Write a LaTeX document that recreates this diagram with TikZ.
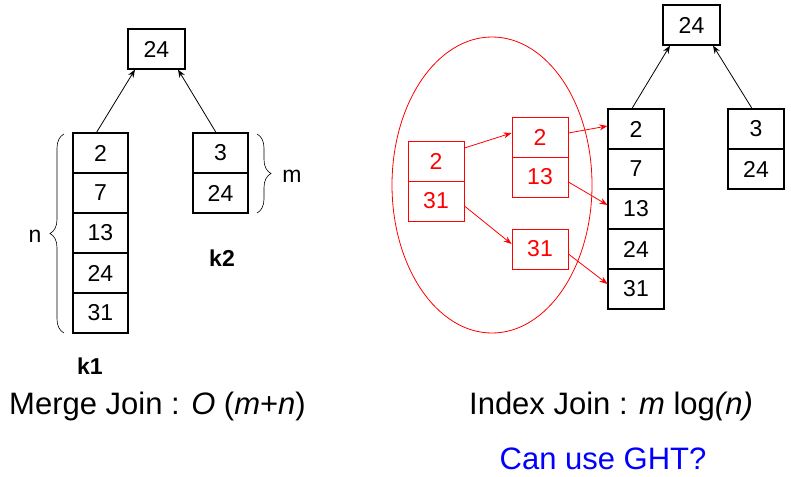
\documentclass[tikz,border=0pt]{standalone}
\usepackage{fontspec}
\setmainfont{Liberation Sans}
\usetikzlibrary{shapes.geometric,arrows.meta,decorations.pathreplacing}
\begin{document}
\begin{tikzpicture}[x=1pt,y=-1pt,
  cell/.style={draw=black,line width=1.1pt,minimum width=55pt,minimum height=40pt,inner sep=0pt,font=\fontsize{23}{26}\selectfont},
  wcell/.style={cell,minimum width=57pt},
  rcell/.style={cell,draw=red,text=red,line width=0.9pt,minimum width=56pt},
  arr/.style={line width=0.8pt,-{Stealth[length=8pt,width=6pt]}},
  rarr/.style={arr,red},
  lbl/.style={font=\fontsize{23}{26}\selectfont},
  blbl/.style={font=\fontsize{23}{26}\selectfont\bfseries},
  big/.style={font=\fontsize{31}{36}\selectfont,inner sep=0pt},
  brc/.style={decorate,decoration={brace,amplitude=14pt},line width=0.6pt}
]
\useasboundingbox (0,0) rectangle (791,476);
% ---- left: merge join
\node[wcell] (lt) at (156.5,49) {24};
\node[cell] (k1a) at (100.5,153) {2};
\node[cell] (k1b) at (100.5,193) {7};
\node[cell] (k1c) at (100.5,233) {13};
\node[cell] (k1d) at (100.5,273) {24};
\node[cell] (k1e) at (100.5,313) {31};
\node[cell] (k2a) at (220.5,153) {3};
\node[cell] (k2b) at (220.5,193) {24};
\draw[arr] ([xshift=-4pt]k1a.north) -- ([xshift=-21.5pt]lt.south);
\draw[arr] ([xshift=-4.5pt]k2a.north) -- ([xshift=21.5pt]lt.south);
\coordinate (nb) at (64,333);
\coordinate (nt) at (64,134);
\draw[brc] (nb) -- (nt);
\coordinate (mt) at (257,134);
\coordinate (mb) at (257,213);
\draw[brc] (mt) -- (mb);
\node[lbl] (nl) at (35,236) {n};
\node[lbl] (ml) at (292,176) {m};
\node[blbl] (k2l) at (222,258) {k2};
\node[blbl] (k1l) at (90,366) {k1};
\node[big] (mj) at (157.5,406) {Merge Join : \textit{O} (\textit{m}+\textit{n})};
% ---- right: index join
\node[ellipse,draw=red,line width=0.8pt,minimum width=200pt,minimum height=296pt,inner sep=0pt] (ell) at (492,185) {};
\node[wcell] (rt) at (691.5,25) {24};
\node[cell,minimum width=56pt] (m1) at (636,129) {2};
\node[cell,minimum width=56pt] (m2) at (636,169) {7};
\node[cell,minimum width=56pt] (m3) at (636,209) {13};
\node[cell,minimum width=56pt] (m4) at (636,249) {24};
\node[cell,minimum width=56pt] (m5) at (636,289) {31};
\node[cell,minimum width=56pt] (r1) at (756,129) {3};
\node[cell,minimum width=56pt] (r2) at (756,169) {24};
\draw[arr] ([xshift=-4pt]m1.north) -- ([xshift=-21.5pt]rt.south);
\draw[arr] ([xshift=-4pt]r1.north) -- ([xshift=21.5pt]rt.south);
\node[rcell] (a1) at (436,161) {2};
\node[rcell] (a2) at (436,201) {31};
\node[rcell] (b1) at (540,137) {2};
\node[rcell] (b2) at (540,177) {13};
\node[rcell] (c1) at (540,249) {31};
\draw[rarr] ([yshift=13pt]a1.east) -- ([yshift=4pt]b1.west);
\draw[rarr] ([yshift=-5pt]a2.east) -- ([yshift=5pt]c1.west);
\draw[rarr] ([yshift=4pt]b1.east) -- ([yshift=3pt]m1.west);
\draw[rarr] ([yshift=-5pt]b2.east) -- ([yshift=4pt]m3.west);
\draw[rarr] ([yshift=-5pt]c1.east) -- ([yshift=5pt]m5.west);
\node[big] (ij) at (611,406) {Index Join : \textit{m} log\textit{(n)}};
\node[big,text={rgb,255:red,0;green,0;blue,255}] (ght) at (603,459) {Can use GHT?};
\end{tikzpicture}
\end{document}
